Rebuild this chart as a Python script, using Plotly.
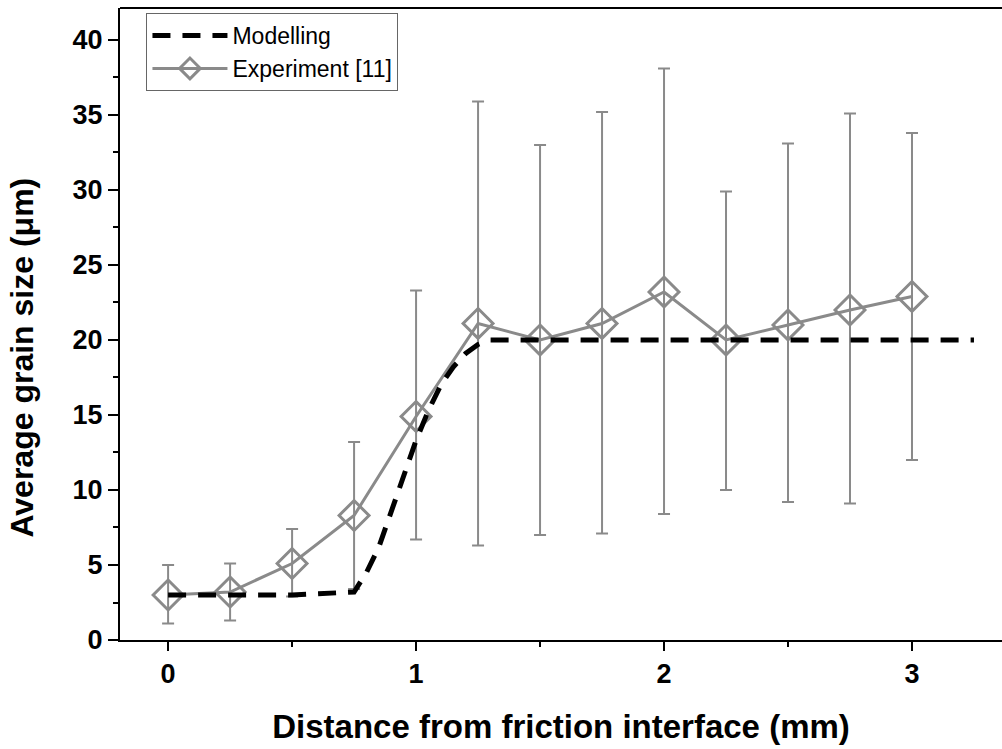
import plotly.graph_objects as go

# Experiment data
exp_x = [0, 0.25, 0.5, 0.75, 1.0, 1.25, 1.5, 1.75, 2.0, 2.25, 2.5, 2.75, 3.0]
exp_y = [3.0, 3.2, 5.1, 8.3, 14.9, 21.1, 20.0, 21.1, 23.2, 20.0, 21.0, 22.0, 22.9]
exp_upper = [5.0, 5.1, 7.4, 13.2, 23.3, 35.9, 33.0, 35.2, 38.1, 29.9, 33.1, 35.1, 33.8]
exp_lower = [1.1, 1.3, 2.9, 3.4, 6.7, 6.3, 7.0, 7.1, 8.4, 10.0, 9.2, 9.1, 12.0]

# Modelling curve
mod_x = [0, 0.25, 0.5, 0.75, 0.8, 0.85, 0.9, 0.95, 1.0, 1.05, 1.1, 1.15, 1.2, 1.25, 1.3, 1.5, 2.0, 2.5, 3.0, 3.25]
mod_y = [3, 3, 3, 3.2, 4.5, 6.2, 8.6, 10.9, 13.3, 15.3, 17.0, 18.2, 19.1, 19.7, 20, 20, 20, 20, 20, 20]

x_ticks = [0, 1, 2, 3]
y_ticks = [0, 5, 10, 15, 20, 25, 30, 35, 40]

err_plus = [u - y for u, y in zip(exp_upper, exp_y)]
err_minus = [y - l for l, y in zip(exp_lower, exp_y)]

gray = "#8a8a8a"
font_family = "Arial, 'Liberation Sans', sans-serif"

fig = go.Figure()
fig.add_trace(go.Scatter(
    x=exp_x, y=exp_y, mode="lines+markers", name="Experiment [11]",
    line=dict(color=gray, width=3),
    marker=dict(symbol="diamond-open", size=23, color=gray, line=dict(color=gray, width=3)),
    error_y=dict(type="data", symmetric=False, array=err_plus, arrayminus=err_minus,
                 color=gray, thickness=2, width=6),
    legendrank=2,
))
fig.add_trace(go.Scatter(
    x=mod_x, y=mod_y, mode="lines", name="Modelling",
    line=dict(color="black", width=5, dash="18px,12px"),
    legendrank=1,
))

fig.update_layout(
    width=1002, height=749,
    margin=dict(l=120, r=0, t=8, b=109),
    paper_bgcolor="white", plot_bgcolor="white",
    font=dict(family=font_family, color="black"),
    showlegend=True,
    legend=dict(x=0.03, y=0.992, xanchor="left", yanchor="top",
                bordercolor="#666666", borderwidth=1, bgcolor="white",
                font=dict(size=23, family=font_family), tracegroupgap=0,
                itemwidth=75),
    xaxis=dict(range=[-0.194, 3.363], showline=True, linecolor="black", linewidth=2,
               ticks="outside", tickwidth=2, ticklen=9, tickcolor="black",
               tickvals=x_ticks, showgrid=False, zeroline=False,
               tickfont=dict(size=27, family=font_family, weight="bold"),
               minor=dict(tickvals=[0.5, 1.5, 2.5], ticks="outside", ticklen=5, tickwidth=2, tickcolor="black"),
               title=dict(text="<b>Distance from friction interface (mm)</b>", font=dict(size=33), standoff=26)),
    yaxis=dict(range=[0, 42.13], showline=True, linecolor="black", linewidth=2,
               ticks="outside", tickwidth=2, ticklen=10, tickcolor="black",
               tickvals=y_ticks, showgrid=False, zeroline=False,
               tickfont=dict(size=27, family=font_family, weight="bold"),
               minor=dict(tickvals=[2.5, 7.5, 12.5, 17.5, 22.5, 27.5, 32.5, 37.5], ticks="outside", ticklen=5, tickwidth=2, tickcolor="black"),
               title=dict(text="")),
    annotations=[dict(text="<b>Average grain size (μm)</b>", textangle=-90,
                      xref="paper", yref="paper", x=-0.111, y=0.447,
                      xanchor="center", yanchor="middle", showarrow=False,
                      font=dict(size=32, family=font_family, color="black"))],
    shapes=[dict(type="line", xref="paper", yref="paper", x0=0, x1=1, y0=1, y1=1,
                 line=dict(color="black", width=2))],
)

fig.write_html("out.html")
